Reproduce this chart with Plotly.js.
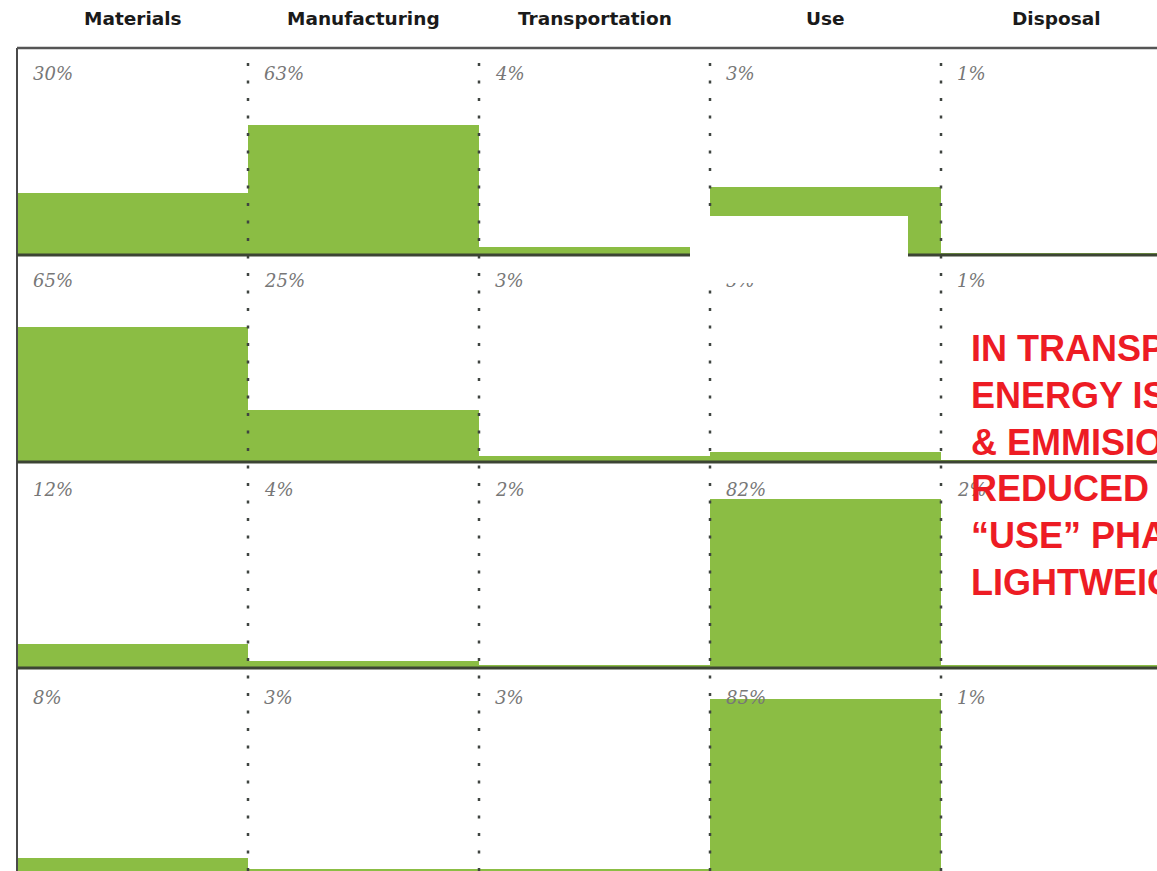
<!DOCTYPE html>
<html><head><meta charset="utf-8">
<script src="https://cdn.plot.ly/plotly-3.0.1.min.js"></script>
<style>html,body{margin:0;padding:0;background:#fff;overflow:hidden}#chart{width:1157px;height:871px}</style>
</head><body><div id="chart"></div>
<script>
// ---- data ----
const phases = ["Materials", "Manufacturing", "Transportation", "Use", "Disposal"];
const row1Values = [30, 63, 4, 33, 1];
const row1Labels = ["30%", "63%", "4%", "3%", "1%"];
const row2Values = [65, 25, 3, 5, 1];
const row2Labels = ["65%", "25%", "3%", "5%", "1%"];
const row3Values = [12, 4, 2, 82, 2];
const row3Labels = ["12%", "4%", "2%", "82%", "2%"];
const row4Values = [8, 3, 3, 85, 1];
const row4Labels = ["8%", "3%", "3%", "85%", "1%"];
const noteLines = ["IN TRANSPORTATION,", "ENERGY IS SAVED", "&amp; EMMISIONS ARE", "REDUCED IN THE", "“USE” PHASE BY", "LIGHTWEIGHTING"];

// ---- geometry ----
const W = 1157, H = 871, ML = 17, MT = 48;
const plotW = W - ML, plotH = H - MT;
const colW = 231;
const pxPerPct = 2.07;
const rowEdges = [48, 255, 462, 668, 871];
const labelCenters = [73, 280, 490, 697];
const py = p => (H - p) / plotH; // pixel y -> paper fraction
const xr = [-0.5, -0.5 + plotW / colW];

const rows = [
  {v: row1Values, l: row1Labels},
  {v: row2Values, l: row2Labels},
  {v: row3Values, l: row3Labels},
  {v: row4Values, l: row4Labels}
];
const green = "#8bbd44";

const traces = rows.map((r, i) => ({
  type: "bar", x: phases, y: r.v,
  xaxis: "x", yaxis: i === 0 ? "y" : "y" + (i + 1),
  marker: {color: green, line: {width: 0}},
  hoverinfo: "skip", showlegend: false
}));

const layout = {
  width: W, height: H,
  margin: {l: ML, r: 0, t: MT, b: 0, pad: 0},
  paper_bgcolor: "#fff", plot_bgcolor: "#fff",
  bargap: 0, showlegend: false,
  xaxis: {type: "category", range: xr, showticklabels: false, ticks: "", showgrid: false, zeroline: false, showline: false, fixedrange: true},
  shapes: [], annotations: []
};
rows.forEach((r, i) => {
  const top = rowEdges[i], bot = rowEdges[i + 1];
  const hpx = bot - top;
  const key = i === 0 ? "yaxis" : "yaxis" + (i + 1);
  layout[key] = {
    domain: [py(bot), py(top)],
    range: [100 - hpx / pxPerPct, 100],
    showticklabels: false, ticks: "", showgrid: false, zeroline: false, showline: false, fixedrange: true
  };
});

// dotted column separators
for (let i = 0; i < phases.length - 1; i++) {
  layout.shapes.push({type: "line", xref: "x", yref: "paper", x0: i + 0.5, x1: i + 0.5, y0: 0, y1: 1,
    layer: "above", line: {color: "#3f4440", width: 2.5, dash: "3px,14.5px"}});
}
// left border
layout.shapes.push({type: "line", xref: "paper", yref: "paper", x0: 0, x1: 0, y0: 0, y1: 1,
  layer: "above", line: {color: "#4a4a4a", width: 2}});
// top border
layout.shapes.push({type: "line", xref: "paper", yref: "paper", x0: 0, x1: 1, y0: 1, y1: 1,
  layer: "above", line: {color: "#555555", width: 2.5}});
// row separators
[255, 462, 668].forEach(p => {
  layout.shapes.push({type: "line", xref: "paper", yref: "paper", x0: 0, x1: 1, y0: py(p), y1: py(p),
    layer: "above", line: {color: "#3c4434", width: 3}});
});

// column headers
phases.forEach((name, i) => {
  layout.annotations.push({xref: "x", yref: "paper", x: i, y: py(18), xanchor: "center", yanchor: "middle",
    text: name, showarrow: false,
    font: {family: "'DejaVu Sans', sans-serif", size: 18.5, weight: 700, color: "#1a1a1a"}});
});
// percentage labels
rows.forEach((r, ri) => {
  r.l.forEach((t, ci) => {
    layout.annotations.push({xref: "x", yref: "paper", x: ci - 0.5 + 14 / colW, y: py(labelCenters[ri]),
      xanchor: "left", yanchor: "middle", text: t, showarrow: false,
      font: {family: "'DejaVu Serif', serif", size: 18, style: "italic", color: "#777777"}});
  });
});
// white cover box
layout.annotations.push({xref: "paper", yref: "paper", x: (799 - ML) / plotW, y: py(249.5),
  xanchor: "center", yanchor: "middle", text: " ", showarrow: false,
  width: 218, height: 67, bgcolor: "#ffffff", borderpad: 0, borderwidth: 0, font: {size: 10}});
// red note
layout.annotations.push({xref: "paper", yref: "paper", x: (969 - ML) / plotW, y: py(465),
  xanchor: "left", yanchor: "middle", align: "left", text: noteLines.join("<br>"), showarrow: false,
  font: {family: "'Liberation Sans', Arial, sans-serif", size: 36, weight: 700, color: "#ed1c24"}});

Plotly.newPlot("chart", traces, layout, {displayModeBar: false, staticPlot: true});
</script>
</body></html>
